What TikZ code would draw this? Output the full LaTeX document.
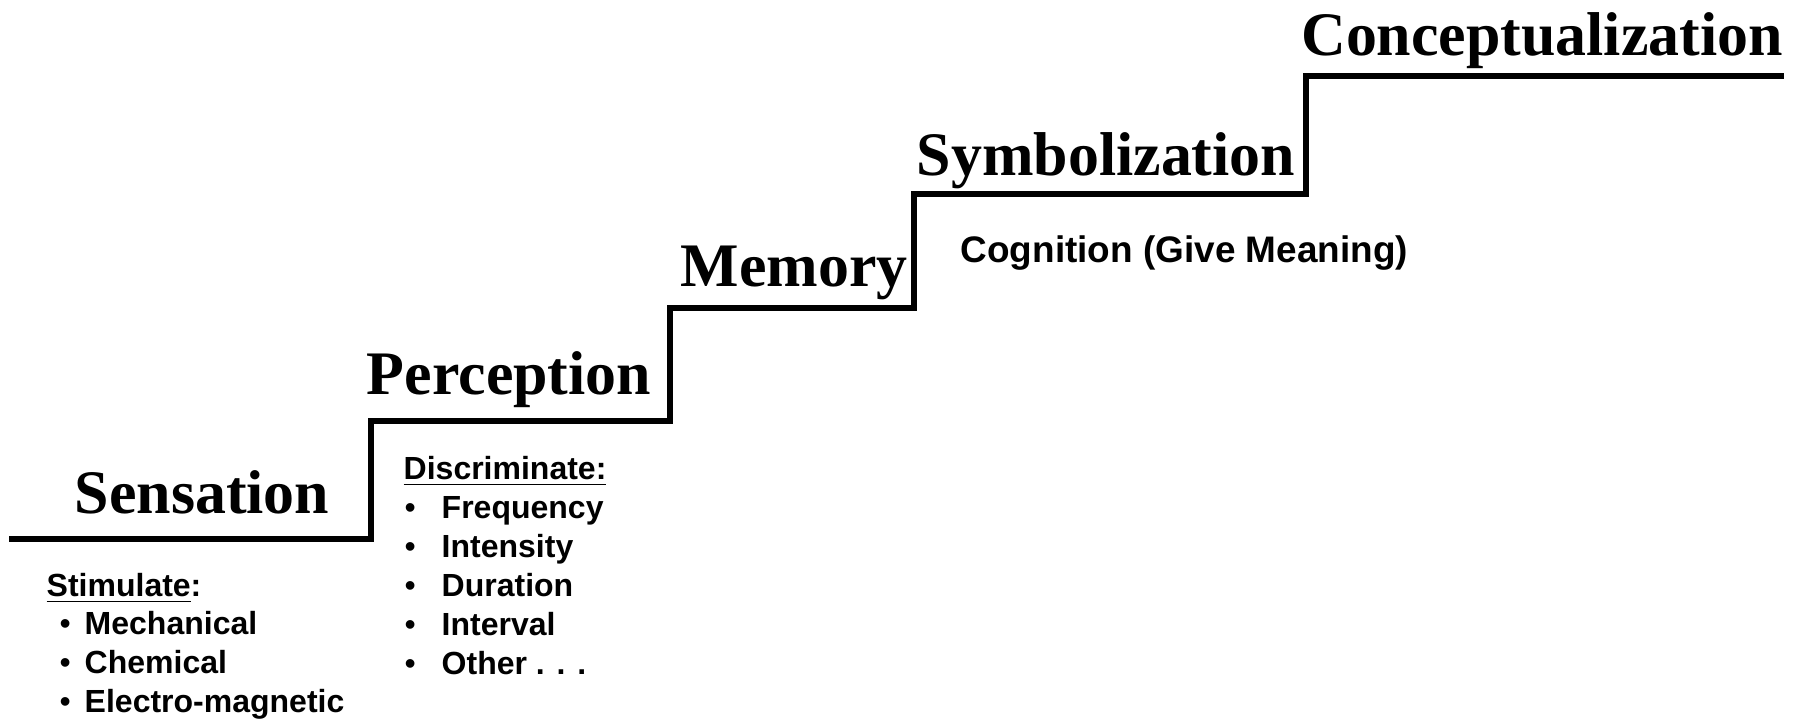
\documentclass[tikz,border=0pt]{standalone}
\usepackage{fontspec}
\setmainfont{Liberation Serif}
\setsansfont{Liberation Sans}
\usetikzlibrary{positioning}

\begin{document}
\begin{tikzpicture}[x=0.01cm,y=-0.01cm,
 stair/.style={line width=1.5pt,line join=miter},
 stage/.style={anchor=base,inner sep=0pt,
               font=\bfseries\fontsize{17.6}{20}\selectfont},
 note/.style={anchor=base west,inner sep=0pt,
              font=\sffamily\bfseries\fontsize{10.5}{12}\selectfont},
 item/.style={anchor=base west,inner sep=0pt,
              font=\sffamily\bfseries\fontsize{9.1}{11}\selectfont}]
\useasboundingbox (0,0) rectangle (1807,718);
% corners of the staircase
\coordinate (start) at (9,539);
\coordinate (r1) at (371,539);
\coordinate (t1) at (371,421);
\coordinate (r2) at (670,421);
\coordinate (t2) at (670,308);
\coordinate (r3) at (914,308);
\coordinate (t3) at (914,194);
\coordinate (r4) at (1306,194);
\coordinate (t4) at (1306,76);
\coordinate (stop) at (1784,76);
\draw[stair] (start)--(r1)--(t1)--(r2)--(t2)--(r3)--(t3)--(r4)--(t4)--(stop);
% stages
\node[stage] (sens) at (202,513) {Sensation};
\node[stage] (perc) at (509,394) {Perception};
\node[stage] (mem) at (794,286) {Memory};
\node[stage] (symb) at (1106,175) {Symbolization};
\node[stage] (conc) at (1542,55) {Conceptualization};
% notes
\node[note] (cog) at (960,262) {Cognition (Give Meaning)};
\node[item] (stim) at (46,596) {\underline{Stimulate}:};
\foreach \t [count=\i] in {Mechanical,Chemical,Electro-magnetic}
  \node[item] (stim\i) at (59,{596+38.7*\i}) {\makebox[0.25cm][l]{\mdseries•}\t};
\node[item] (disc) at (403,479) {\underline{Discriminate:}};
\foreach \t [count=\i] in {Frequency,Intensity,Duration,Interval,Other . . .}
  \node[item] (disc\i) at (404,{479+39*\i}) {\makebox[0.37cm][l]{\mdseries•}\t};
\end{tikzpicture}
\end{document}
